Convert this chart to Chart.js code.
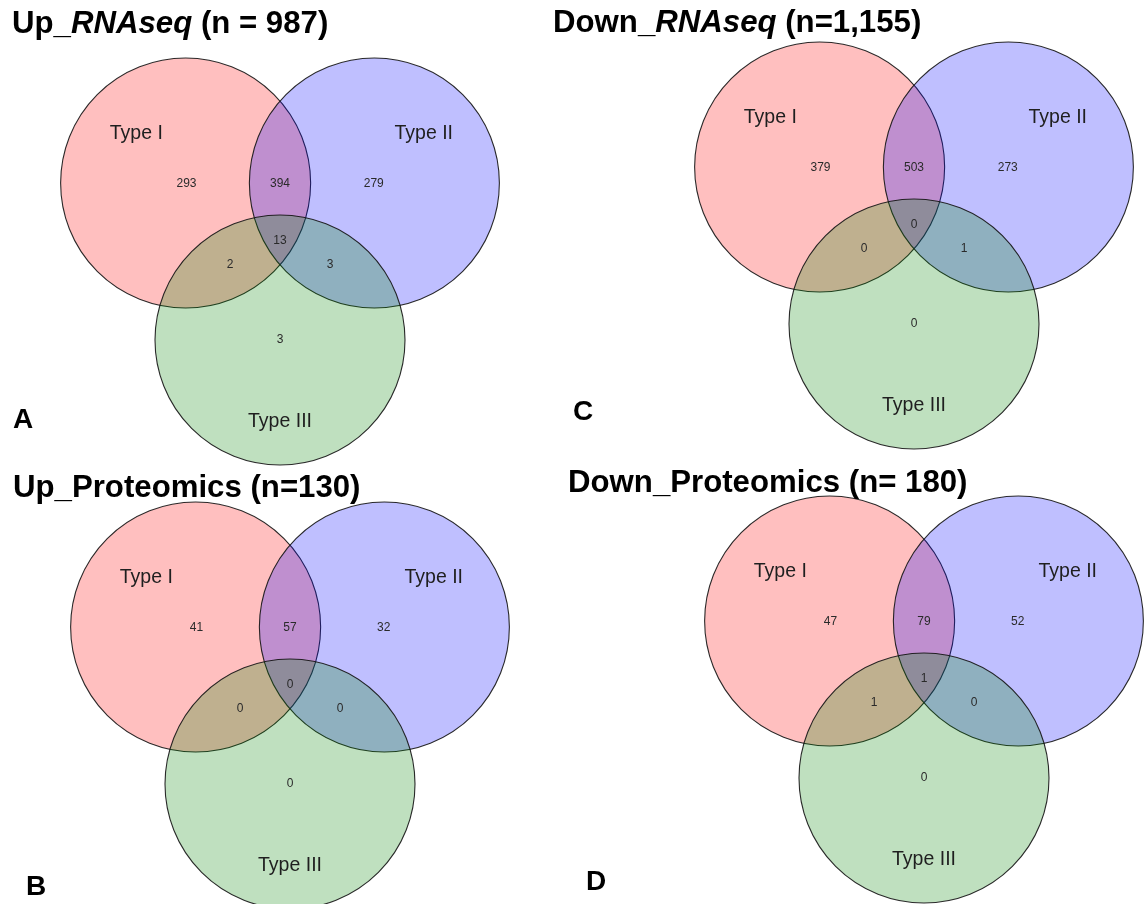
<!DOCTYPE html>
<html>
<head>
<meta charset="utf-8">
<script src="https://cdn.jsdelivr.net/npm/chart.js@4/dist/chart.umd.min.js"></script>
<style>
  html, body { margin: 0; padding: 0; background: #ffffff; }
  canvas { display: block; }
</style>
</head>
<body>
<canvas id="venn" width="1146" height="904"></canvas>
<script>
// ---------------- DATA ----------------
const panelIds = ["A", "B", "C", "D"];
const panelTitles = [
  "Up_*RNAseq* (n = 987)",
  "Up_Proteomics (n=130)",
  "Down_*RNAseq* (n=1,155)",
  "Down_Proteomics (n= 180)"
];
const setNames = ["Type I", "Type II", "Type III"];
// region order: I only, II only, III only, I&II, I&III, II&III, I&II&III
const regionKeys = ["I", "II", "III", "I_II", "I_III", "II_III", "I_II_III"];
const countsA = [293, 279, 3, 394, 2, 3, 13];
const countsB = [41, 32, 0, 57, 0, 0, 0];
const countsC = [379, 273, 0, 503, 0, 1, 0];
const countsD = [47, 52, 0, 79, 1, 0, 1];
const panelCounts = [countsA, countsB, countsC, countsD];

// ---------------- LAYOUT (geometry / styles, not data) ----------------
const U = 125;                         // pixels per layout unit
const W = 1146, H = 904;
const R = 1.0;                         // circle radius (units)
const circleGeom = [                   // circle centres relative to panel origin (units)
  { dx: -0.755, dy: 0 },
  { dx:  0.755, dy: 0 },
  { dx:  0,     dy: 1.256 }
];
const setLabelGeom = [
  { dx: -1.15, dy: -0.392 },
  { dx:  1.15, dy: -0.392 },
  { dx:  0,    dy: 1.905 }
];
const regionGeom = [
  { dx: -0.748, dy: 0.004 },
  { dx:  0.750, dy: 0.004 },
  { dx:  0,     dy: 1.256 },
  { dx:  0,     dy: 0.004 },
  { dx: -0.400, dy: 0.656 },
  { dx:  0.400, dy: 0.656 },
  { dx:  0,     dy: 0.460 }
];
// panel origin (midpoint of Type I / Type II centres) and text anchors, in px
const panelLayout = [
  { ox: 280, oy: 183, tx: 12,  ty: 33,  lx: 13,  ly: 428 },
  { ox: 290, oy: 627, tx: 13,  ty: 497, lx: 26,  ly: 895 },
  { ox: 914, oy: 167, tx: 553, ty: 32,  lx: 573, ly: 420 },
  { ox: 924, oy: 621, tx: 568, ty: 492, lx: 586, ly: 890 }
];
const fills = ["rgba(255,0,0,0.25)", "rgba(0,0,255,0.25)", "rgba(0,130,0,0.25)"];
const FONT = "'Liberation Sans', Arial, Helvetica, sans-serif";

// ---------------- BUILD DATASETS ----------------
function circlePoints(setIdx) {
  return panelLayout.map(p => ({
    x: p.ox / U + circleGeom[setIdx].dx,
    y: p.oy / U + circleGeom[setIdx].dy
  }));
}
function radiusPx(ctx) {
  const s = ctx.chart.scales && ctx.chart.scales.x;
  if (!s) return 0;
  const r = s.getPixelForValue(R) - s.getPixelForValue(0);
  return isFinite(r) ? r : 0;
}
const datasets = setNames.map((name, i) => ({
  label: name,
  data: circlePoints(i),
  showLine: false,
  backgroundColor: fills[i],
  borderColor: "rgba(20,20,20,0.9)",
  pointBackgroundColor: fills[i],
  pointBorderColor: "rgba(20,20,20,0.9)",
  pointBorderWidth: 1.1,
  pointRadius: radiusPx,
  pointHoverRadius: radiusPx,
  pointHitRadius: 0,
  order: 3 - i,
  clip: false
}));

// ---------------- LABEL PLUGIN ----------------
function drawRich(ctx, str, x, y, size) {
  const parts = str.split("*");
  let cx = x;
  ctx.textAlign = "left";
  ctx.textBaseline = "alphabetic";
  parts.forEach((seg, k) => {
    if (!seg) return;
    ctx.font = (k % 2 === 1 ? "italic " : "") + "bold " + size + "px " + FONT;
    ctx.fillText(seg, cx, y);
    cx += ctx.measureText(seg).width;
  });
}

const vennLabels = {
  id: "vennLabels",
  afterDatasetsDraw(chart) {
    const ctx = chart.ctx;
    const xs = chart.scales.x, ys = chart.scales.y;
    ctx.save();
    panelLayout.forEach((p, pi) => {
      const ox = p.ox / U, oy = p.oy / U;
      // set names
      ctx.fillStyle = "#1f1f1f";
      ctx.font = "19.5px " + FONT;
      ctx.textAlign = "center";
      ctx.textBaseline = "middle";
      setNames.forEach((nm, si) => {
        ctx.fillText(nm,
          xs.getPixelForValue(ox + setLabelGeom[si].dx),
          ys.getPixelForValue(oy + setLabelGeom[si].dy));
      });
      // region counts
      ctx.font = "12px " + FONT;
      ctx.fillStyle = "#2a2a2a";
      panelCounts[pi].forEach((v, ri) => {
        ctx.fillText(String(v),
          xs.getPixelForValue(ox + regionGeom[ri].dx),
          ys.getPixelForValue(oy + regionGeom[ri].dy));
      });
      // titles and panel letters
      ctx.fillStyle = "#000000";
      drawRich(ctx, panelTitles[pi], p.tx, p.ty, 31.2);
      ctx.font = "bold 28px " + FONT;
      ctx.textAlign = "left";
      ctx.textBaseline = "alphabetic";
      ctx.fillText(panelIds[pi], p.lx, p.ly);
    });
    ctx.restore();
  }
};

new Chart(document.getElementById("venn"), {
  type: "scatter",
  data: { datasets },
  options: {
    responsive: false,
    animation: false,
    events: [],
    layout: { padding: 0 },
    plugins: { legend: { display: false }, tooltip: { enabled: false }, title: { display: false } },
    scales: {
      x: { type: "linear", min: 0, max: W / U, display: false },
      y: { type: "linear", min: 0, max: H / U, reverse: true, display: false }
    }
  },
  plugins: [vennLabels]
});
</script>
</body>
</html>
